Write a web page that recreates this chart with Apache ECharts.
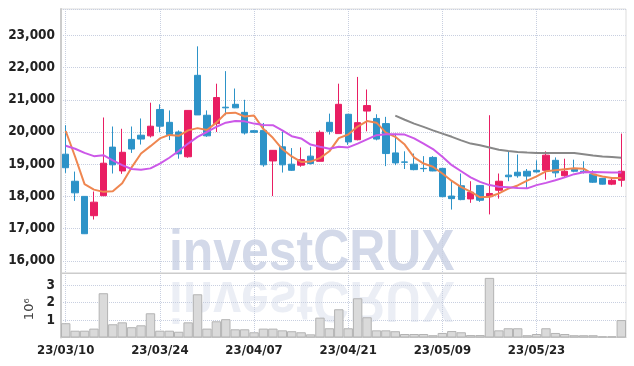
<!DOCTYPE html>
<html>
<head>
<meta charset="utf-8">
<script src="https://cdn.jsdelivr.net/npm/echarts@6/dist/echarts.min.js"></script>
<style>
  html, body { margin: 0; padding: 0; background: #fff; }
  #chart { width: 634px; height: 366px; }
</style>
</head>
<body>
<div id="chart"></div>
<script>
// trading days (yy/mm/dd)
var dates = ['23/03/10','23/03/13','23/03/14','23/03/15','23/03/16','23/03/17','23/03/20','23/03/21','23/03/22','23/03/23',
             '23/03/24','23/03/27','23/03/28','23/03/29','23/03/30','23/03/31','23/04/03','23/04/04','23/04/05','23/04/06',
             '23/04/07','23/04/10','23/04/11','23/04/12','23/04/13','23/04/14','23/04/17','23/04/18','23/04/19','23/04/20',
             '23/04/21','23/04/24','23/04/25','23/04/26','23/04/27','23/04/28','23/05/02','23/05/03','23/05/04','23/05/08',
             '23/05/09','23/05/10','23/05/11','23/05/12','23/05/15','23/05/16','23/05/17','23/05/18','23/05/19','23/05/22',
             '23/05/23','23/05/24','23/05/25','23/05/26','23/05/30','23/05/31','23/06/01','23/06/02','23/06/05','23/06/07'];

var opens  = [19310,18470,18000,17400,18020,19530,18790,19770,19900,19880,
              20700,20300,20000,19230,21760,20520,20260,20770,20860,20610,
              20040,20050,19100,19540,19000,18970,19250,19090,20300,19950,
              20550,19760,20650,20420,20260,19350,19070,19000,18870,19210,
              18870,18010,18330,17920,18340,17990,18190,18660,18750,18780,
              18810,18810,19120,18640,18840,18780,18690,18560,18380,18500];
var closes = [18890,18110,16840,17820,19030,18980,19370,19470,19780,20180,
              20180,19920,19320,20670,20530,19880,21070,20750,20750,19970,
              19990,18980,19430,18980,18810,19140,19020,19990,20020,20860,
              19690,20290,20820,19780,19330,19040,19060,18830,18860,18790,
              17990,17930,17900,18130,17880,18090,18470,18610,18640,18630,
              18760,19280,18730,18780,18780,18740,18440,18380,18500,18780];
var lows   = [18730,17860,16830,17280,18010,18710,18700,19350,19610,19830,
              20000,19750,19170,19200,20530,19850,20000,20520,20740,19920,
              19980,18920,18010,18740,18790,18920,18990,19090,19920,19950,
              19600,19740,20020,19740,18940,18970,18850,18810,18760,18780,
              17985,17590,17880,17800,17830,17440,17930,18470,18580,18240,
              18740,18520,18590,18610,18750,18710,18420,18370,18350,18300];
var highs  = [20210,18770,18010,18150,20450,20170,20100,20170,20420,20910,
              20860,20670,20050,20680,22660,20670,21500,21890,21350,21000,
              20060,20280,19440,20020,19500,19520,19540,20050,20570,21500,
              20560,21710,21320,20550,20470,19950,19400,19330,19250,19250,
              18880,18480,18710,18470,18350,20520,18710,19380,19300,18850,
              19120,19400,19210,19170,19140,19090,18810,18570,18580,19950];

// moving averages
var ma5  = [20030,19230,18380,18210,18140,18160,18410,18900,19330,19560,
            19800,19910,19880,20050,20120,20060,20290,20580,20600,20480,
            20510,20090,19820,19470,19240,19070,19080,19190,19400,19810,
            19920,20170,20340,20290,19980,19850,19610,19210,19020,18920,
            18710,18480,18290,18150,17970,17990,18090,18240,18340,18490,
            18620,18780,18810,18840,18870,18860,18690,18620,18570,18570];
var ma20 = [19570,19480,19350,19250,19280,19120,18970,18850,18830,18870,
            19020,19200,19410,19640,19850,20000,20160,20290,20340,20330,
            20260,20220,20210,20050,19870,19800,19610,19540,19480,19540,
            19520,19640,19770,19900,19930,19930,19920,19800,19640,19470,
            19230,18970,18780,18590,18450,18350,18300,18280,18260,18250,
            18350,18420,18500,18590,18690,18750,18760,18750,18740,18740];
var ma60 = [null,null,null,null,null,null,null,null,null,null,
            null,null,null,null,null,null,null,null,null,null,
            null,null,null,null,null,null,null,null,null,null,
            null,null,null,null,null,20510,20380,20260,20160,20050,
            19950,19850,19740,19640,19590,19520,19450,19410,19380,19360,
            19350,19350,19350,19350,19350,19310,19270,19240,19220,19200];

// volume, unit 10^6 shares
var volumes = [0.82,0.39,0.39,0.51,2.54,0.76,0.87,0.59,0.70,1.39,
               0.39,0.39,0.33,0.87,2.48,0.51,0.93,1.05,0.47,0.47,
               0.30,0.51,0.51,0.41,0.36,0.30,0.18,1.14,0.53,1.62,
               0.53,2.25,1.16,0.41,0.41,0.36,0.20,0.20,0.20,0.13,
               0.26,0.37,0.30,0.14,0.14,3.42,0.41,0.53,0.53,0.13,
               0.20,0.53,0.26,0.20,0.13,0.13,0.13,0.07,0.07,1.00];

var label_font = '"Liberation Sans Narrow", "DejaVu Sans Condensed", "Liberation Sans", sans-serif';
var grid_line = { show: true, lineStyle: { color: '#c8cfe0', type: 'dotted', width: 1 } };
var up_color = '#e91e63';
var down_color = '#2d93c8';
var wm_font = 'bold 58px "Liberation Sans", sans-serif';

// echarts candle format: [open, close, low, high]
var candle_data = dates.map(function (d, i) {
    return [opens[i], closes[i], lows[i], highs[i]];
});

var myChart = echarts.init(document.getElementById('chart'));

option = {
    animation: false,
    backgroundColor: '#fff',
    grid: [
        { left: 61, right: 8, top: 9, height: 264, containLabel: false, show: true, borderColor: '#dddddd', borderWidth: 1 },
        { left: 61, right: 8, top: 273, height: 64.5, containLabel: false, show: true, borderColor: '#dddddd', borderWidth: 1 }
    ],
    // watermark + its reflection, behind everything
    graphic: [
        {
            type: 'text', x: 169, y: 283, scaleX: 0.86, z: -10,
            style: { text: 'investCRUX', font: wm_font, fill: '#d3d9e9', align: 'left', verticalAlign: 'bottom' }
        },
        {
            type: 'text', x: 169, y: 269, scaleX: 0.86, scaleY: -1, z: -10,
            style: { text: 'investCRUX', font: wm_font, fill: '#d3d9e9', opacity: 0.45, align: 'left', verticalAlign: 'bottom' }
        }
    ],
    xAxis: [
        {
            type: 'category', gridIndex: 0, data: dates, boundaryGap: true,
            axisLine: { show: true, lineStyle: { color: '#cccccc' } },
            axisTick: { show: false },
            axisLabel: { show: false, interval: 9 },
            splitLine: { show: true, interval: 9, alignWithLabel: true, lineStyle: grid_line.lineStyle }
        },
        {
            type: 'category', gridIndex: 1, data: dates, boundaryGap: true,
            axisLine: { show: true, lineStyle: { color: '#cccccc' } },
            axisTick: { show: false },
            axisLabel: { interval: 9, margin: 7, fontSize: 13, fontWeight: 'bold', color: '#222', fontFamily: label_font },
            splitLine: { show: true, interval: 9, alignWithLabel: true, lineStyle: grid_line.lineStyle }
        }
    ],
    yAxis: [
        {
            type: 'value', gridIndex: 0, min: 15620, max: 23820, splitNumber: 8, scale: true,
            axisLine: { show: true, lineStyle: { color: '#cccccc', width: 2 } },
            axisTick: { show: false },
            axisLabel: {
                showMinLabel: false, showMaxLabel: false, margin: 6,
                fontSize: 13.5, fontWeight: 'bold', color: '#222', fontFamily: label_font,
                formatter: function (v) { return v.toLocaleString('en-US'); }
            },
            splitLine: grid_line
        },
        {
            type: 'value', gridIndex: 1, min: 0, max: 3.7, interval: 1,
            name: '10⁶', nameLocation: 'middle', nameRotate: 90, nameGap: 17,
            nameTextStyle: { fontSize: 13, color: '#444', fontFamily: '"DejaVu Sans", sans-serif', padding: [0, 8, 0, 0] },
            axisLine: { show: true, lineStyle: { color: '#cccccc', width: 2 } },
            axisTick: { show: false },
            axisLabel: {
                showMinLabel: false, showMaxLabel: false, margin: 6,
                fontSize: 13.5, fontWeight: 'bold', color: '#222', fontFamily: label_font
            },
            splitLine: grid_line
        }
    ],
    series: [
        {
            name: 'price', type: 'candlestick', xAxisIndex: 0, yAxisIndex: 0,
            data: candle_data, barWidth: '72%',
            itemStyle: { color: up_color, color0: down_color, borderColor: up_color, borderColor0: down_color, borderWidth: 1 }
        },
        {
            name: 'MA5', type: 'line', xAxisIndex: 0, yAxisIndex: 0, data: ma5,
            symbol: 'none', lineStyle: { color: '#ef8650', width: 2 }, z: 3
        },
        {
            name: 'MA20', type: 'line', xAxisIndex: 0, yAxisIndex: 0, data: ma20,
            symbol: 'none', lineStyle: { color: '#cc58e8', width: 2 }, z: 3
        },
        {
            name: 'MA60', type: 'line', xAxisIndex: 0, yAxisIndex: 0, data: ma60,
            symbol: 'none', lineStyle: { color: '#888888', width: 2 }, z: 3
        },
        {
            name: 'volume', type: 'bar', xAxisIndex: 1, yAxisIndex: 1, data: volumes,
            barCategoryGap: '0%',
            itemStyle: { color: '#dadada', borderColor: '#b3b3b3', borderWidth: 1 }
        }
    ]
};

myChart.setOption(option);
</script>
</body>
</html>
